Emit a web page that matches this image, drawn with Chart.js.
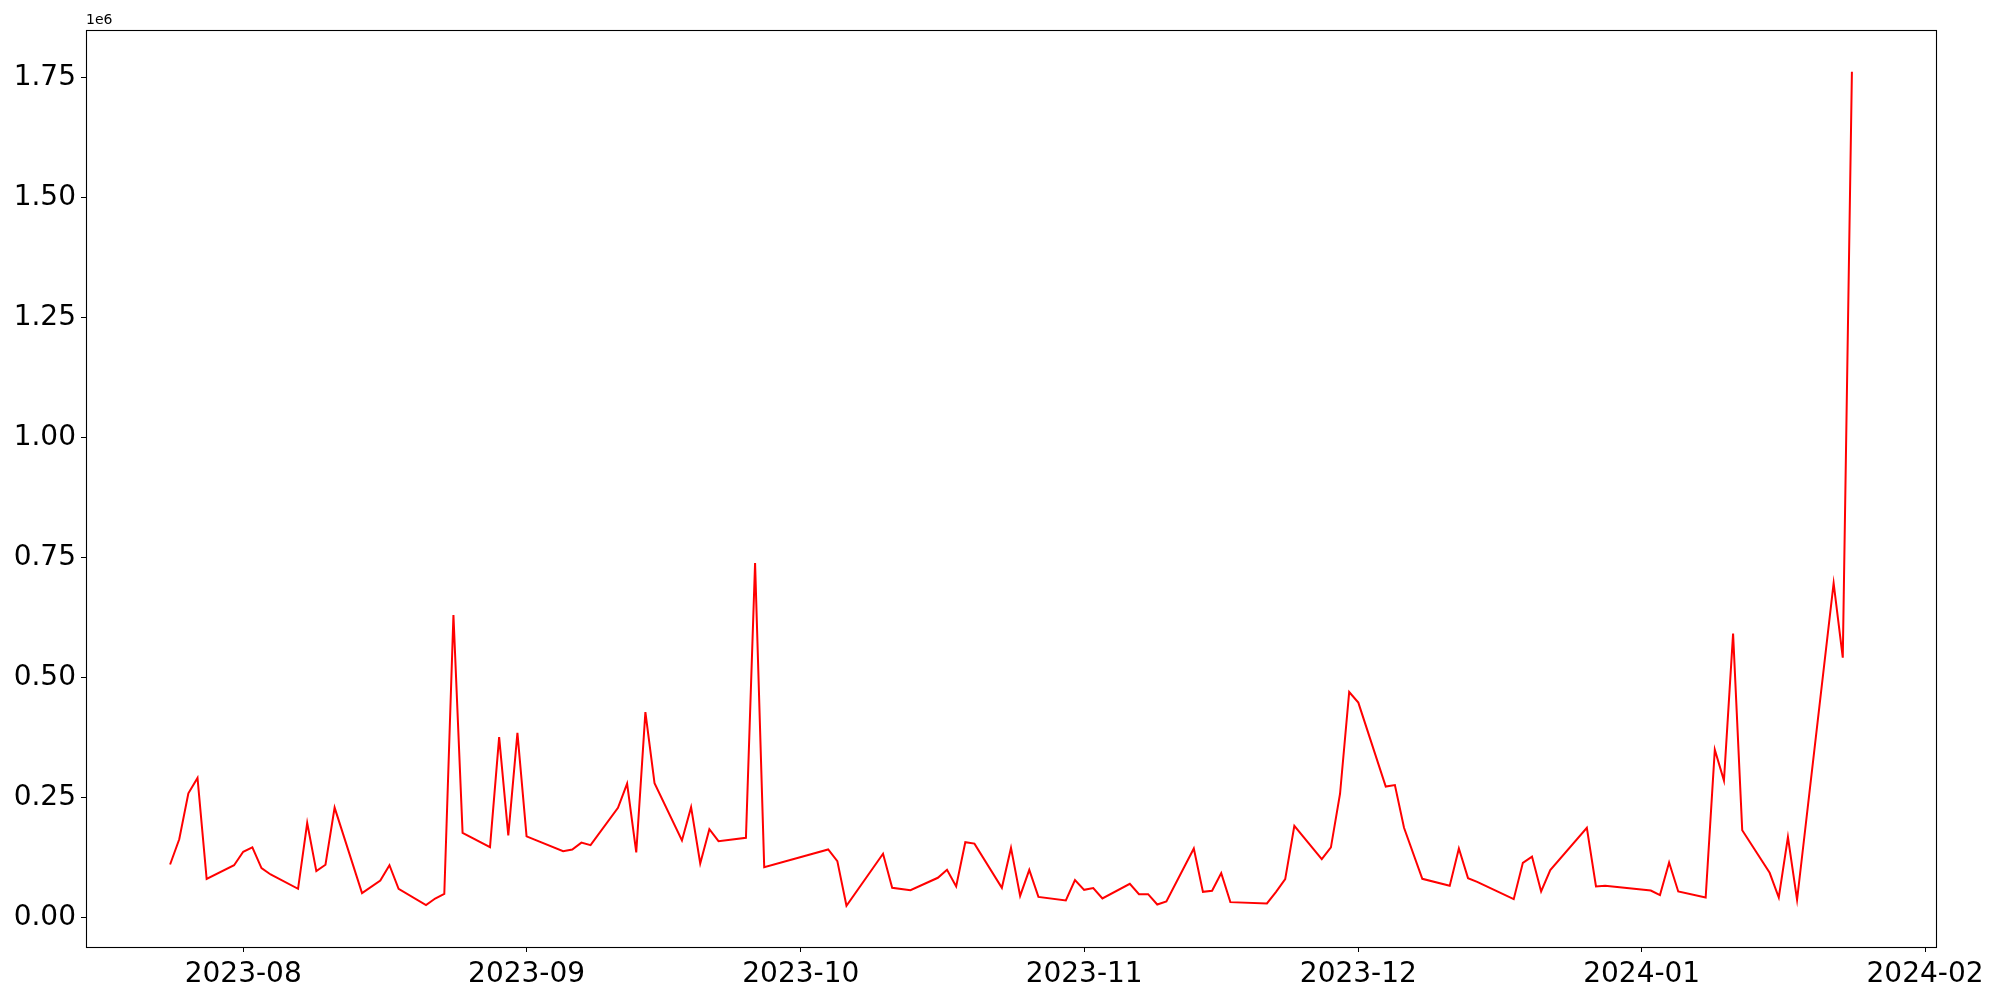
<!DOCTYPE html>
<html>
<head>
<meta charset="utf-8">
<script src="https://cdn.jsdelivr.net/npm/chart.js@4.4.0/dist/chart.umd.min.js"></script>
<style>
  body { margin: 0; background: #fff; }
  #wrap { width: 2000px; height: 1000px; }
</style>
</head>
<body>
<div id="wrap"><canvas id="myChart" width="2000" height="1000"></canvas></div>
<script>
// data
const dates = [
  '2023-07-24','2023-07-25','2023-07-26','2023-07-27','2023-07-28','2023-07-31',
  '2023-08-01','2023-08-02','2023-08-03','2023-08-04','2023-08-07','2023-08-08','2023-08-09','2023-08-10','2023-08-11',
  '2023-08-14','2023-08-16','2023-08-17','2023-08-18','2023-08-21','2023-08-22','2023-08-23','2023-08-24','2023-08-25',
  '2023-08-28','2023-08-29','2023-08-30','2023-08-31','2023-09-01',
  '2023-09-05','2023-09-06','2023-09-07','2023-09-08','2023-09-11','2023-09-12','2023-09-13','2023-09-14','2023-09-15',
  '2023-09-18','2023-09-19','2023-09-20','2023-09-21','2023-09-22','2023-09-25','2023-09-26','2023-09-27',
  '2023-10-04','2023-10-05','2023-10-06','2023-10-10','2023-10-11','2023-10-13',
  '2023-10-16','2023-10-17','2023-10-18','2023-10-19','2023-10-20','2023-10-23','2023-10-24','2023-10-25','2023-10-26','2023-10-27',
  '2023-10-30','2023-10-31','2023-11-01','2023-11-02','2023-11-03','2023-11-06','2023-11-07','2023-11-08','2023-11-09','2023-11-10',
  '2023-11-13','2023-11-14','2023-11-15','2023-11-16','2023-11-17','2023-11-21','2023-11-22','2023-11-23','2023-11-24',
  '2023-11-27','2023-11-28','2023-11-29','2023-11-30','2023-12-01','2023-12-04','2023-12-05','2023-12-06','2023-12-08',
  '2023-12-11','2023-12-12','2023-12-13','2023-12-14','2023-12-18','2023-12-19','2023-12-20','2023-12-21','2023-12-22',
  '2023-12-26','2023-12-27','2023-12-28','2024-01-02','2024-01-03','2024-01-04','2024-01-05',
  '2024-01-08','2024-01-09','2024-01-10','2024-01-11','2024-01-12','2024-01-15','2024-01-16','2024-01-17','2024-01-18',
  '2024-01-22','2024-01-23','2024-01-24'
]
const values = [
  110500,163000,259000,291000,80600,109000,
  137000,146000,103000,89700,59800,197000,96600,110000,229000,
  50700,77000,109000,59800,25700,39600,49000,630500,176600,
  146700,376000,171000,385000,169000,
  138000,141800,156000,150800,228800,279000,135600,428000,280000,
  160600,230000,112600,184000,159000,166000,739000,105000,
  141800,117500,24400,132800,61900,57000,
  82800,99400,64600,157000,154000,61900,145000,45200,99400,43000,
  35500,77900,57700,61200,39600,70200,48700,48700,27100,33400,
  143900,53500,55600,92500,32000,29200,53500,80000,191000,
  121700,146000,258000,470000,448000,273000,276000,187000,80600,
  66000,143900,82000,74400,38200,114000,127000,54200,98700,
  187000,64600,66000,56300,46600,114700,54200,
  41700,350000,285700,591700,182000,93200,41700,167500,36900,
  697000,541600,1763000
]
const monthTicks = ['2023-08-01','2023-09-01','2023-10-01','2023-11-01','2023-12-01','2024-01-01','2024-02-01']
const yTicks = [0, 250000, 500000, 750000, 1000000, 1250000, 1500000, 1750000]

const toMs = d => Date.parse(d + 'T00:00:00Z')
const points = dates.map((d, i) => ({ x: toMs(d), y: values[i] }))
const xFirst = toMs(dates[0]), xLast = toMs(dates[dates.length - 1])
const xPad = (xLast - xFirst) * 0.05

const FONT = 'DejaVu Sans'

// box round the plot + the "1e6" offset text
const frame = {
  id: 'frame',
  afterDraw(chart) {
    const a = chart.chartArea, c = chart.ctx
    c.save()
    c.strokeStyle = '#000'
    c.lineWidth = 1.1
    c.strokeRect(a.left + 0.5, a.top + 0.5, a.right - a.left, a.bottom - a.top)
    c.fillStyle = '#000'
    c.font = '14px "' + FONT + '"'
    c.textBaseline = 'bottom'
    c.textAlign = 'left'
    c.fillText('1e6', a.left, a.top - 3)
    c.restore()
  }
}

new Chart(document.getElementById('myChart'), {
  type: 'line',
  data: {
    datasets: [{
      data: points,
      borderColor: 'rgb(255, 0, 0)',
      borderWidth: 2,
      pointRadius: 0,
      tension: 0,
      fill: false
    }]
  },
  options: {
    responsive: false,
    animation: false,
    layout: { padding: { left: 0, right: 64, top: 30, bottom: 0 } },
    plugins: { legend: { display: false }, tooltip: { enabled: false } },
    scales: {
      x: {
        type: 'linear',
        min: xFirst - xPad,
        max: xLast + xPad,
        afterBuildTicks: axis => { axis.ticks = monthTicks.map(m => ({ value: toMs(m) })) },
        afterFit: axis => { axis.height = 53 },
        border: { display: false },
        grid: { drawOnChartArea: false, drawTicks: true, tickLength: 5, color: '#000' },
        ticks: {
          color: '#000',
          padding: 6,
          maxRotation: 0,
          autoSkip: false,
          font: { family: FONT, size: 28 },
          callback: v => new Date(v).toISOString().slice(0, 7)
        }
      },
      y: {
        min: -61500,
        max: 1850000,
        afterBuildTicks: axis => { axis.ticks = yTicks.map(v => ({ value: v })) },
        afterFit: axis => { axis.width = 86 },
        border: { display: false },
        grid: { drawOnChartArea: false, drawTicks: true, tickLength: 5, color: '#000' },
        ticks: {
          color: '#000',
          padding: 5,
          font: { family: FONT, size: 28 },
          callback: v => (v / 1e6).toFixed(2)
        }
      }
    }
  },
  plugins: [frame]
})
</script>
</body>
</html>
